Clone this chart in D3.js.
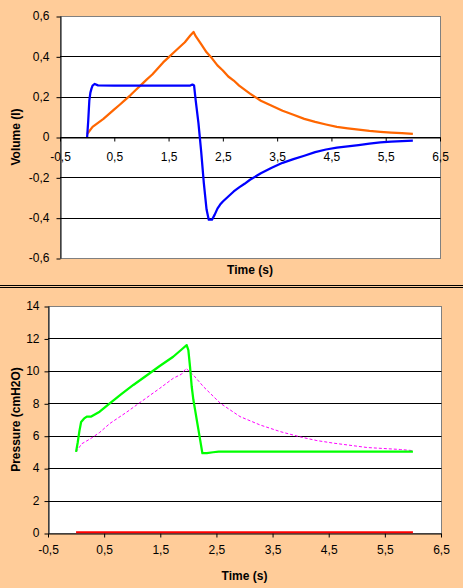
<!DOCTYPE html>
<html><head><meta charset="utf-8">
<script src="https://cdn.jsdelivr.net/npm/d3@7/dist/d3.min.js"></script>
<style>
html,body{margin:0;padding:0;background:#FFCC99;}
svg{display:block;font-family:"Liberation Sans",Arial,sans-serif;}
</style></head>
<body><svg id="c" width="463" height="588"></svg>
<script>
// ---------- data ----------
const xTicks = [-0.5, 0.5, 1.5, 2.5, 3.5, 4.5, 5.5, 6.5];
const volTicks = [-0.6, -0.4, -0.2, 0, 0.2, 0.4, 0.6];
const presTicks = [0, 2, 4, 6, 8, 10, 12, 14];

const orangeT = [0,0.1,0.2,0.3,0.4,0.5,0.6,0.7,0.8,0.9,1.0,1.1,1.2,1.3,1.4,1.5,1.6,1.7,1.8,1.9,1.96,2.0,2.1,2.2,2.3,2.4,2.5,2.6,2.7,2.8,2.9,3.0,3.2,3.4,3.6,3.8,4.0,4.2,4.4,4.6,4.8,5.0,5.2,5.4,5.6,5.8,6.0];
const orangeV = [0.015,0.05,0.07,0.09,0.113,0.137,0.16,0.184,0.208,0.234,0.26,0.286,0.31,0.34,0.37,0.395,0.42,0.445,0.47,0.503,0.521,0.50,0.46,0.42,0.39,0.355,0.33,0.30,0.28,0.255,0.235,0.215,0.18,0.155,0.13,0.11,0.09,0.075,0.062,0.05,0.043,0.036,0.03,0.026,0.022,0.019,0.016];

const blueT = [0,0.02,0.04,0.06,0.08,0.1,0.14,0.2,0.5,1.0,1.5,1.9,1.94,1.97,2.0,2.05,2.1,2.15,2.2,2.24,2.3,2.35,2.4,2.45,2.5,2.6,2.7,2.8,2.9,3.0,3.2,3.4,3.6,3.8,4.0,4.2,4.4,4.6,4.8,5.0,5.2,5.4,5.6,5.8,6.0];
const blueV = [0,0.08,0.18,0.22,0.24,0.255,0.263,0.256,0.255,0.255,0.255,0.255,0.26,0.255,0.18,0.07,-0.07,-0.23,-0.36,-0.41,-0.41,-0.385,-0.355,-0.335,-0.32,-0.295,-0.27,-0.25,-0.232,-0.212,-0.18,-0.152,-0.128,-0.11,-0.093,-0.075,-0.062,-0.053,-0.046,-0.04,-0.033,-0.027,-0.023,-0.02,-0.018];

const greenT = [0,0.03,0.06,0.09,0.14,0.19,0.27,0.42,0.6,0.8,1.02,1.25,1.49,1.73,1.9,1.97,2.0,2.03,2.06,2.09,2.12,2.15,2.18,2.21,2.25,2.33,2.44,2.54,3.0,4.0,5.0,6.0];
const greenV = [5.0,5.6,6.3,6.85,7.05,7.18,7.18,7.48,8.0,8.55,9.13,9.7,10.3,10.87,11.38,11.59,11.28,10.25,9.02,8.2,7.59,6.97,6.36,5.74,4.92,4.92,4.98,5.02,5.02,5.02,5.02,5.02];

const magT = [0,0.1,0.25,0.42,0.6,0.9,1.08,1.32,1.49,1.73,1.88,1.96,2.09,2.27,2.57,2.92,3.28,3.64,4.0,4.29,4.59,5.19,5.78,6.0];
const magV = [5.0,5.5,5.8,6.2,6.75,7.45,7.9,8.5,8.92,9.54,9.8,10.15,9.74,9.02,8.0,7.18,6.66,6.25,5.92,5.7,5.54,5.27,5.15,5.08];

const redT = [0, 6.0];
const redV = [0.05, 0.05];

// ---------- drawing ----------
const svg = d3.select("#c");
const fmt = v => (Math.abs(v) < 1e-9 ? "0" : (Number.isInteger(v) ? String(v) : v.toFixed(1).replace(".", ",")));

// separator lines between the two chart areas
svg.append("line").attr("x1",0).attr("x2",463).attr("y1",285.5).attr("y2",285.5).attr("stroke","#000");
svg.append("line").attr("x1",0).attr("x2",463).attr("y1",287.5).attr("y2",287.5).attr("stroke","#000");

function chart(o) {
  const g = svg.append("g");
  const x = d3.scaleLinear().domain([-0.5, 6.5]).range([o.left, o.right]);
  const y = d3.scaleLinear().domain([o.yTicks[0], o.yTicks[o.yTicks.length-1]]).range([o.bottom, o.top]);
  // plot area
  g.append("rect").attr("x",o.left+0.5).attr("y",o.top+0.5).attr("width",o.right-o.left).attr("height",o.bottom-o.top)
    .attr("fill","#fff").attr("stroke","#808080");
  // gridlines
  g.append("g").selectAll("line").data(o.yTicks.slice(1,-1)).join("line")
    .attr("x1",o.left).attr("x2",o.right+0.5)
    .attr("y1",d=>Math.round(y(d))+0.5).attr("y2",d=>Math.round(y(d))+0.5)
    .attr("stroke","#000");
  // y axis
  const ya = g.append("g").attr("transform",`translate(${o.left+0.5},0)`)
    .call(d3.axisLeft(y).tickValues(o.yTicks).tickFormat(fmt).tickSize(4).tickPadding(o.yPad).tickSizeOuter(0));
  ya.selectAll(".tick line").attr("transform","translate(0,0.5)");
  ya.select(".domain").attr("stroke","#000");
  // x axis at y=0
  const y0 = Math.round(y(0))+0.5;
  const xa = g.append("g").attr("transform",`translate(0,${y0})`)
    .call(d3.axisBottom(x).tickValues(xTicks).tickFormat(fmt).tickSize(4).tickPadding(o.xPad).tickSizeOuter(0));
  xa.select(".domain").attr("stroke","#000");
  g.selectAll(".tick text").attr("font-size","12px").attr("fill","#000").attr("font-family","Liberation Sans, Arial, sans-serif");
  g.selectAll(".tick line").attr("stroke","#000");
  // series
  const line = d3.line().x(d=>x(d[0])).y(d=>y(d[1]));
  o.series.forEach(s => {
    g.append("path").datum(s.t.map((t,i)=>[t,s.v[i]]))
      .attr("d",line).attr("fill","none").attr("stroke",s.color).attr("stroke-width",s.w)
      .attr("stroke-dasharray",s.dash||null).attr("stroke-linejoin","round");
  });
  // titles
  g.append("text").attr("x",(o.left+o.right)/2).attr("y",o.xTitleY).attr("text-anchor","middle")
    .attr("font-size","12px").attr("font-weight","bold").text("Time (s)");
  g.append("text").attr("transform",`translate(${o.yTitleX},${(o.top+o.bottom)/2}) rotate(-90)`)
    .attr("text-anchor","middle").attr("font-size","12px").attr("font-weight","bold").text(o.yTitle);
}

chart({left:60, right:440, top:16, bottom:258, yTicks:volTicks, yPad:7, xPad:10.5,
  xTitleY:273.5, yTitleX:19.5, yTitle:"Volume (l)",
  series:[
    {t:orangeT, v:orangeV, color:"#FF6600", w:2.25},
    {t:blueT, v:blueV, color:"#0000FF", w:2.25}
  ]});

chart({left:48, right:441, top:306, bottom:533, yTicks:presTicks, yPad:5, xPad:7.5,
  xTitleY:580, yTitleX:19.5, yTitle:"Pressure (cmH2O)",
  series:[
    {t:redT, v:redV, color:"#FF0000", w:2},
    {t:magT, v:magV, color:"#FF00FF", w:1, dash:"3,2"},
    {t:greenT, v:greenV, color:"#00FF00", w:2.25}
  ]});
</script>
</body></html>
